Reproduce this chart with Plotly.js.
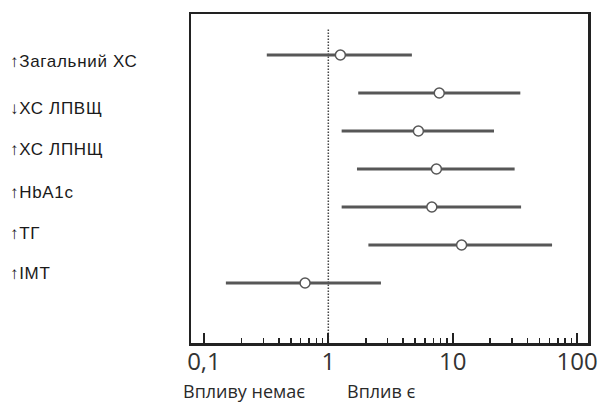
<!DOCTYPE html>
<html>
<head>
<meta charset="utf-8">
<script src="https://cdn.plot.ly/plotly-3.0.1.min.js"></script>
<style>html,body{margin:0;padding:0;background:#fff;}#chart{width:599px;height:410px;}</style>
</head>
<body>
<div id="chart"></div>
<script>
// Data
var rows = [1, 2, 3, 4, 5, 6, 7];
var pointEst = [1.25, 7.8, 5.3, 7.4, 6.8, 11.8, 0.65];
var lowerCI = [0.32, 1.74, 1.28, 1.7, 1.28, 2.1, 0.15];
var upperCI = [4.7, 35.0, 21.5, 31.5, 35.5, 63.0, 2.65];
var labels = ['↑Загальний ХС', '↓ХС ЛПВЩ', '↑ХС ЛПНЩ', '↑HbA1c', '↑ТГ', '↑IMT'];
var labelPos = [61, 108, 150, 192, 233, 273]; // pixel centres in the figure
var majorTicks = [0.1, 1, 10, 100];
var majorTickText = ['0,1', '1', '10', '100'];
var minorTicks = [0.2,0.3,0.4,0.5,0.6,0.7,0.8,0.9,2,3,4,5,6,7,8,9,20,30,40,50,60,70,80,90];
var noEffectValue = 1;
var bottomTexts = ['Впливу немає', 'Вплив є'];

var W = 599, H = 410;
var m = {l: 191, r: 11, t: 14, b: 67};
var ph = H - m.t - m.b;
var pw = W - m.l - m.r;

var lx = [], ly = [];
for (var i = 0; i < rows.length; i++) {
  lx.push(lowerCI[i], upperCI[i], null);
  ly.push(rows[i], rows[i], null);
}

var xr = [-1.1044, 2.0884];

var traces = [
  {x: lx, y: ly, type: 'scatter', mode: 'lines', line: {color: '#575757', width: 3}, hoverinfo: 'skip', showlegend: false},
  {x: pointEst, y: rows, type: 'scatter', mode: 'markers',
   marker: {symbol: 'circle', size: 10, color: '#ffffff', line: {color: '#575757', width: 1.5}}, showlegend: false},
  {x: [0.1, 100], y: [null, null], xaxis: 'x2', type: 'scatter', mode: 'markers', showlegend: false, hoverinfo: 'skip'}
];

var annotations = [];
for (var j = 0; j < labels.length; j++) {
  annotations.push({text: labels[j], xref: 'paper', yref: 'paper', x: (8 - m.l) / pw, y: (H - m.b - labelPos[j]) / ph,
    xanchor: 'left', yanchor: 'middle', align: 'left', showarrow: false, name: 'rowlabel',
    font: {family: 'Liberation Sans, Arial, sans-serif', size: 17, color: '#1a1a1a'}});
}
annotations.push({text: bottomTexts[0], xref: 'paper', yref: 'paper', x: (181 - m.l) / pw, y: (H - m.b - 391) / ph,
  xanchor: 'left', yanchor: 'middle', showarrow: false, font: {family: 'Open Sans, sans-serif', size: 18, color: '#2a2a2a'}});
annotations.push({text: bottomTexts[1], xref: 'paper', yref: 'paper', x: (345 - m.l) / pw, y: (H - m.b - 391) / ph,
  xanchor: 'left', yanchor: 'middle', showarrow: false, font: {family: 'Open Sans, sans-serif', size: 18, color: '#2a2a2a'}});

var layout = {
  width: W, height: H,
  margin: m,
  paper_bgcolor: '#ffffff', plot_bgcolor: '#ffffff',
  showlegend: false,
  xaxis: {type: 'log', range: xr, tickmode: 'array', tickvals: majorTicks, ticktext: majorTickText,
    ticks: 'inside', ticklen: 10, tickwidth: 2.2, tickcolor: '#222',
    showline: true, mirror: true, linecolor: '#222', linewidth: 2.5,
    showgrid: false, zeroline: false,
    tickfont: {family: 'Open Sans, sans-serif', size: 24, color: '#333'}, ticklabelstandoff: -4},
  xaxis2: {type: 'log', range: xr, overlaying: 'x', anchor: 'y', side: 'bottom', tickmode: 'array', tickvals: minorTicks,
    ticks: 'inside', ticklen: 5, tickwidth: 1.5, tickcolor: '#222', showticklabels: false,
    showline: false, showgrid: false, zeroline: false},
  yaxis: {range: [8.579, -0.079], showticklabels: false, ticks: '', showgrid: false, zeroline: false,
    showline: true, mirror: true, linecolor: '#222', linewidth: 2.5},
  shapes: [{type: 'line', xref: 'x', yref: 'paper', x0: noEffectValue, x1: noEffectValue, y0: 0, y1: (H - m.b - 28) / ph,
    line: {color: '#444', width: 1.5, dash: '1.5px,1.5px'}, layer: 'below'}],
  annotations: annotations
};

Plotly.newPlot('chart', traces, layout, {displayModeBar: false, staticPlot: true}).then(function () {
  var nodes = document.querySelectorAll('.annotation-text');
  for (var k = 0; k < labels.length && k < nodes.length; k++) {
    nodes[k].style.letterSpacing = '0.7px';
  }
});
</script>
</body>
</html>
